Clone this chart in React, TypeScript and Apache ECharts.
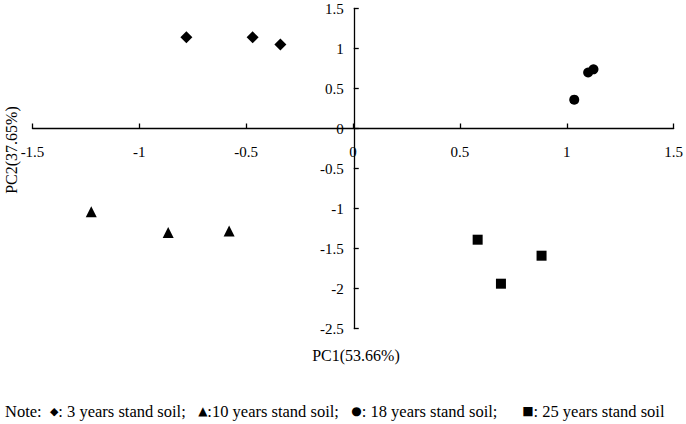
import React, { useEffect, useRef } from "react";
import * as echarts from "echarts";

const xTicks = { min: -1.5, max: 1.5, interval: 0.5 };
const yTicks = { min: -2.5, max: 1.5, interval: 0.5 };

const stand3: number[][] = [
  [-0.78, 1.14],
  [-0.47, 1.14],
  [-0.34, 1.05],
];
const stand10: number[][] = [
  [-1.225, -1.04],
  [-0.865, -1.3],
  [-0.58, -1.28],
];
const stand18: number[][] = [
  [1.035, 0.36],
  [1.1, 0.7],
  [1.125, 0.74],
];
const stand25: number[][] = [
  [0.583, -1.39],
  [0.692, -1.94],
  [0.882, -1.59],
];

const xTitle = "PC1(53.66%)";
const yTitle = "PC2(37.65%)";
const noteText =
  "Note:  {d|◆}: 3 years stand soil;   {t|▲}:10 years stand soil;   {c|●}: 18 years stand soil;      {s|■}: 25 years stand soil";

const FONT = "Liberation Serif, Times New Roman, serif";

const GRID = { left: 32.5, right: 11, top: 8.5, bottom: 95.5 };
const W = 686;
const H = 424;

export default function App() {
  const ref = useRef<HTMLDivElement>(null);
  useEffect(() => {
    if (!ref.current) return;
    const chart = echarts.init(ref.current, undefined, { renderer: "svg" });
    const gw = W - GRID.left - GRID.right;
    const gh = H - GRID.top - GRID.bottom;
    const xOffset = -gh * ((0 - yTicks.min) / (yTicks.max - yTicks.min));
    const yOffset = -gw * ((0 - xTicks.min) / (xTicks.max - xTicks.min));
    const axisCommon = {
      type: "value" as const,
      splitLine: { show: false },
      axisLine: { show: true, onZero: false, lineStyle: { color: "#000", width: 1.3 } },
      axisTick: { show: true, inside: true, length: 5, lineStyle: { color: "#000", width: 1.3 } },
    };
    chart.setOption({
      animation: false,
      backgroundColor: "#fff",
      textStyle: { fontFamily: FONT },
      grid: GRID,
      xAxis: {
        ...axisCommon,
        position: "bottom",
        offset: xOffset,
        min: xTicks.min,
        max: xTicks.max,
        interval: xTicks.interval,
        axisLabel: { color: "#000", fontSize: 15, fontFamily: FONT, margin: 16 },
      },
      yAxis: {
        ...axisCommon,
        position: "left",
        offset: yOffset,
        min: yTicks.min,
        max: yTicks.max,
        interval: yTicks.interval,
        axisLabel: { color: "#000", fontSize: 15, fontFamily: FONT, margin: 10 },
      },
      series: [
        { name: "3 years", type: "scatter", symbol: "diamond", symbolSize: 12, itemStyle: { color: "#000", opacity: 1 }, data: stand3 },
        { name: "10 years", type: "scatter", symbol: "triangle", symbolSize: 11, itemStyle: { color: "#000", opacity: 1 }, data: stand10 },
        { name: "18 years", type: "scatter", symbol: "circle", symbolSize: 10, itemStyle: { color: "#000", opacity: 1 }, data: stand18 },
        { name: "25 years", type: "scatter", symbol: "rect", symbolSize: 10, itemStyle: { color: "#000", opacity: 1 }, data: stand25 },
      ],
      graphic: [
        {
          type: "text",
          x: 356,
          y: 355,
          style: { text: xTitle, font: `16px ${FONT}`, fill: "#000", align: "center", verticalAlign: "middle" },
        },
        {
          type: "text",
          x: 11,
          y: 150,
          rotation: Math.PI / 2,
          style: { text: yTitle, font: `16px ${FONT}`, fill: "#000", align: "center", verticalAlign: "middle" },
        },
        {
          type: "text",
          x: 5,
          y: 411,
          style: {
            text: noteText,
            font: `16.5px ${FONT}`,
            fill: "#000",
            verticalAlign: "middle",
            rich: {
              d: { fontFamily: "DejaVu Sans", fontSize: 11, fill: "#000" },
              t: { fontFamily: "DejaVu Sans", fontSize: 12, fill: "#000" },
              c: { fontFamily: "DejaVu Sans", fontSize: 12, fill: "#000" },
              s: { fontFamily: "DejaVu Sans", fontSize: 12, fill: "#000" },
            },
          },
        },
      ],
    });
    return () => chart.dispose();
  }, []);
  return <div ref={ref} style={{ position: "fixed", left: 0, top: 0, width: W, height: H }} />;
}
